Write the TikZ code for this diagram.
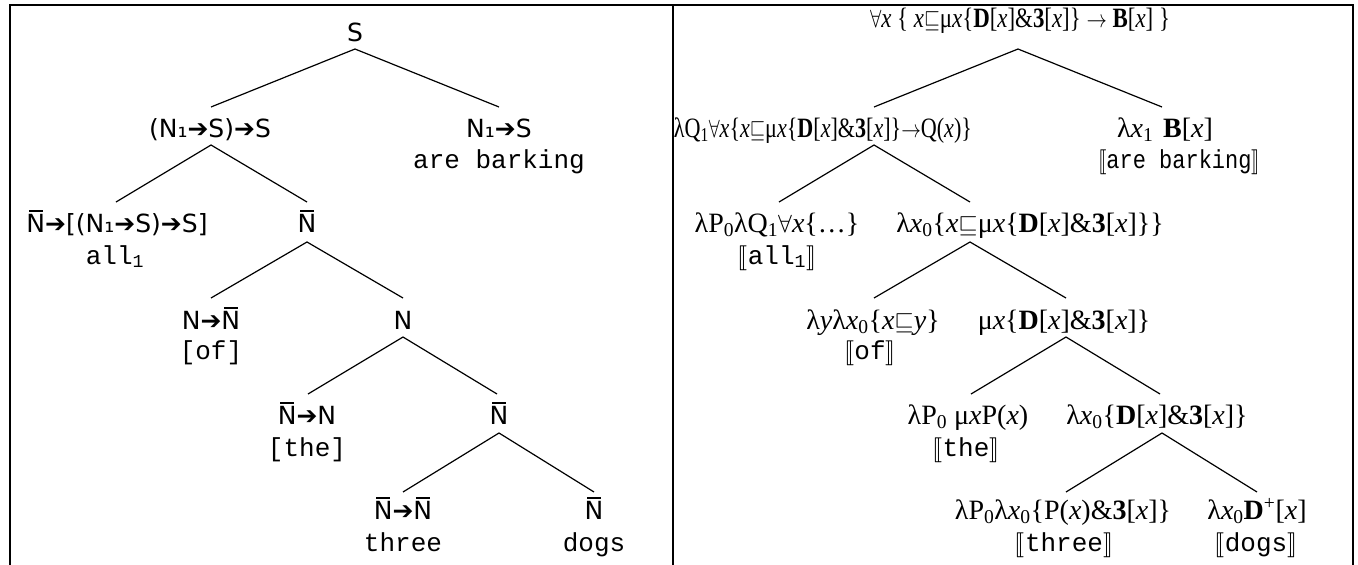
\documentclass[tikz,border=0pt]{standalone}
\usepackage{fontspec}
\usepackage{graphicx}
\setmainfont{Liberation Serif}
\setsansfont{DejaVu Sans}
\setmonofont{Liberation Mono}
\newfontfamily\djv{DejaVu Sans}
\usepackage{stmaryrd}
\newcommand\X{\textit{x}}
\newcommand\Yv{\textit{y}}
\newcommand\sqle{\ensuremath{\sqsubseteq}}
\newcommand\fa{\ensuremath{\forall}}
\newcommand\Ar{{\djv ➔}}
\newcommand\Nb{{\ooalign{N\cr\hidewidth\rule[0.82em]{0.56em}{0.075em}\hidewidth\cr}}}
\newcommand\lbr{\ensuremath{\llbracket}}
\newcommand\rbr{\ensuremath{\rrbracket}}
\newcommand\sbs[1]{\textsubscript{#1}}
\newcommand\DX{\textbf{D}[\X]}
\newcommand\TX{\textbf{3}[\X]}
\newcommand\tts[1]{\texttt{\fontsize{26}{30}\selectfont #1}}
\tikzset{
  lab/.style={anchor=base, inner sep=0pt, font=\sffamily\fontsize{25}{30}\selectfont},
  word/.style={anchor=base, inner sep=0pt, font=\ttfamily\fontsize{26}{30}\selectfont},
  fml/.style={anchor=base, inner sep=0pt, font=\rmfamily\fontsize{28}{32}\selectfont},
  den/.style={anchor=base, inner sep=0pt, font=\rmfamily\fontsize{27}{32}\selectfont},
  branch/.style={line width=1.2pt},
  frame/.style={line width=2pt}
}
\begin{document}
\begin{tikzpicture}[x=1pt,y=-1pt]
\useasboundingbox (0,0) rectangle (1358,565);
% frame
\draw[frame] (9,5) -- (1354,5);
\draw[frame] (10,5) -- (10,566);
\draw[frame] (673,5) -- (673,566);
\draw[frame] (1353,5) -- (1353,566);

% ===== left tree =====
\node[lab] (s) at (355,41) {S};
\node[lab] (a) at (210,137) {(N₁\Ar S)\Ar S};
\node[lab] (b) at (499,137) {N₁\Ar S};
\node[word] (bw) at (499,168) {are barking};
\node[lab] (c) at (117,232) {\Nb\Ar[(N₁\Ar S)\Ar S]};
\node[word] (cw) at (115,264) {all\textsubscript{1}};
\node[lab] (d) at (307,232) {\Nb};
\node[lab] (e) at (211,329) {N\Ar\Nb};
\node[word] (ew) at (211,359) {[of]};
\node[lab] (f) at (403,329) {N};
\node[lab] (g) at (307,424) {\Nb\Ar N};
\node[word] (gw) at (307,456) {[the]};
\node[lab] (h) at (499,424) {\Nb};
\node[lab] (i) at (403,519) {\Nb\Ar\Nb};
\node[word] (iw) at (403,551) {three};
\node[lab] (j) at (594,519) {\Nb};
\node[word] (jw) at (594,551) {dogs};

\coordinate (s-dn) at (355,49);
\coordinate (a-up) at (211,107);  \coordinate (a-dn) at (211,145);
\coordinate (b-up) at (499,107);
\coordinate (c-up) at (116,202);
\coordinate (d-up) at (307,202);  \coordinate (d-dn) at (307,242);
\coordinate (e-up) at (211,298);
\coordinate (f-up) at (403,298);  \coordinate (f-dn) at (403,337);
\coordinate (g-up) at (308,394);
\coordinate (h-up) at (497,394);  \coordinate (h-dn) at (499,433);
\coordinate (i-up) at (403,492);
\coordinate (j-up) at (594,492);

\draw[branch] (a-up) -- (s-dn) -- (b-up);
\draw[branch] (c-up) -- (a-dn) -- (d-up);
\draw[branch] (e-up) -- (d-dn) -- (f-up);
\draw[branch] (g-up) -- (f-dn) -- (h-up);
\draw[branch] (i-up) -- (h-dn) -- (j-up);

% ===== right tree =====
\node[fml] (S) at (1020,27) {\resizebox{300pt}{\height}{\fa\X\ \{ \X\sqle μ\X\{\DX\&\TX\} \ensuremath{\rightarrow}\ \textbf{B}[\X] \}}};
\node[fml] (A) at (823,137) {\resizebox{298pt}{\height}{λQ\sbs{1}\fa\X\{\X\sqle μ\X\{\DX\&\TX\}\ensuremath{\rightarrow}Q(\X)\}}};
\node[fml] (B) at (1165,137) {λ\X\sbs{1}\hspace{0.35em}\textbf{B}[\X]};
\node[den] (Bw) at (1179,168) {\resizebox{162pt}{\height}{\lbr\tts{are barking}\rbr}};
\node[fml] (C) at (777,232) {λP\sbs{0}λQ\sbs{1}\fa\X\{…\}};
\node[den] (Cw) at (777,264) {\lbr\tts{all\textsubscript{1}}\rbr};
\node[fml] (D) at (1030,232) {λ\X\sbs{0}\{\X\sqle μ\X\{\DX\&\TX\}\}};
\node[fml] (E) at (873,329) {λ\Yv λ\X\sbs{0}\{\X\sqle\Yv\}};
\node[den] (Ew) at (870,359) {\lbr\tts{of}\rbr};
\node[fml] (F) at (1064,329) {μ\X\{\DX\&\TX\}};
\node[fml] (G) at (968,424) {λP\sbs{0} μ\X P(\X)};
\node[den] (Gw) at (966,456) {\lbr\tts{the}\rbr};
\node[fml] (H) at (1157,424) {λ\X\sbs{0}\{\DX\&\TX\}};
\node[fml] (I) at (1063,519) {λP\sbs{0}λ\X\sbs{0}\{P(\X)\&\TX\}};
\node[den] (Iw) at (1064,551) {\lbr\tts{three}\rbr};
\node[fml] (J) at (1257,519) {λ\X\sbs{0}\textbf{D}\textsuperscript{+}[\X]};
\node[den] (Jw) at (1256,551) {\lbr\tts{dogs}\rbr};

\coordinate (S-dn) at (1018,49);
\coordinate (A-up) at (874,107);  \coordinate (A-dn) at (874,145);
\coordinate (B-up) at (1162,107);
\coordinate (C-up) at (779,202);
\coordinate (D-up) at (970,202);  \coordinate (D-dn) at (970,242);
\coordinate (E-up) at (874,298);
\coordinate (F-up) at (1066,298); \coordinate (F-dn) at (1066,337);
\coordinate (G-up) at (971,394);
\coordinate (H-up) at (1160,394); \coordinate (H-dn) at (1162,433);
\coordinate (I-up) at (1066,492);
\coordinate (J-up) at (1257,492);

\draw[branch] (A-up) -- (S-dn) -- (B-up);
\draw[branch] (C-up) -- (A-dn) -- (D-up);
\draw[branch] (E-up) -- (D-dn) -- (F-up);
\draw[branch] (G-up) -- (F-dn) -- (H-up);
\draw[branch] (I-up) -- (H-dn) -- (J-up);
\end{tikzpicture}
\end{document}
